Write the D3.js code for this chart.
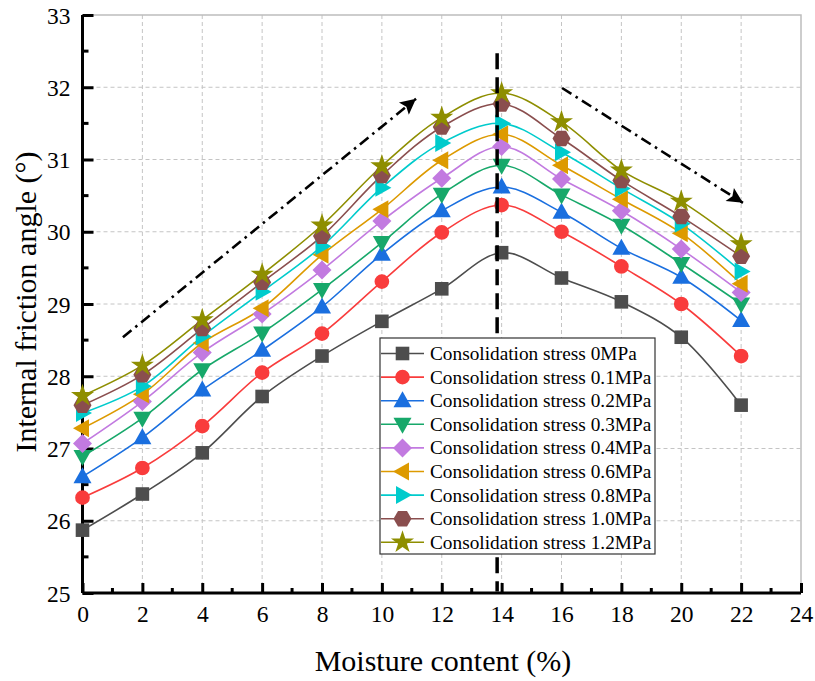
<!DOCTYPE html>
<html>
<head>
<meta charset="utf-8">
<script src="https://cdn.jsdelivr.net/npm/d3@7"></script>
<style>
  body { margin: 0; background: #fff; }
  text { font-family: "Liberation Serif", "Times New Roman", serif; fill: #000; }
</style>
</head>
<body>
<svg id="chart" width="815" height="681"></svg>
<script>
// moisture content (%)
var moisture = [0, 2, 4, 6, 8, 10, 12, 14, 16, 18, 20, 22];

// internal friction angle for each consolidation stress
var s0   = [25.87, 26.37, 26.94, 27.72, 28.28, 28.76, 29.21, 29.71, 29.36, 29.03, 28.54, 27.60];
var s01  = [26.32, 26.73, 27.31, 28.05, 28.59, 29.31, 29.99, 30.37, 30.00, 29.52, 29.00, 28.28];
var s02  = [26.61, 27.15, 27.81, 28.36, 28.96, 29.69, 30.29, 30.62, 30.27, 29.77, 29.37, 28.77];
var s03  = [26.89, 27.42, 28.09, 28.60, 29.20, 29.85, 30.52, 30.92, 30.51, 30.09, 29.56, 29.00];
var s04  = [27.07, 27.65, 28.33, 28.86, 29.47, 30.15, 30.74, 31.18, 30.73, 30.29, 29.76, 29.16];
var s06  = [27.28, 27.75, 28.46, 28.94, 29.68, 30.31, 30.99, 31.35, 30.92, 30.45, 29.98, 29.28];
var s08  = [27.49, 27.86, 28.55, 29.17, 29.80, 30.61, 31.23, 31.50, 31.10, 30.60, 30.11, 29.45];
var s10  = [27.60, 28.02, 28.66, 29.30, 29.94, 30.78, 31.45, 31.77, 31.29, 30.71, 30.21, 29.66];
var s12  = [27.73, 28.15, 28.78, 29.41, 30.09, 30.91, 31.58, 31.92, 31.52, 30.85, 30.42, 29.83];

var seriesNames = ["Consolidation stress 0MPa", "Consolidation stress 0.1MPa", "Consolidation stress 0.2MPa",
  "Consolidation stress 0.3MPa", "Consolidation stress 0.4MPa", "Consolidation stress 0.6MPa",
  "Consolidation stress 0.8MPa", "Consolidation stress 1.0MPa", "Consolidation stress 1.2MPa"];
var seriesValues = [s0, s01, s02, s03, s04, s06, s08, s10, s12];
var colors = ["#4d4d4d", "#f93c3c", "#1a6fdf", "#17a86a", "#c27ae0", "#dd9a00", "#00cbcc", "#8a4e4e", "#8e8e00"];
var shapes = ["square", "circle", "up", "down", "diamond", "left", "right", "hexagon", "star"];

var xTicks = [0, 2, 4, 6, 8, 10, 12, 14, 16, 18, 20, 22, 24];
var yTicks = [25, 26, 27, 28, 29, 30, 31, 32, 33];

// annotation positions (data units)
var peakLine = {x: 13.85, y0: 32.47, y1: 25.02};
var arrows = [
  {x0: 1.35, y0: 28.54, x1: 11.14, y1: 31.84},
  {x0: 16.02, y0: 31.99, x1: 22.06, y1: 30.40}
];

function drawChart() {
  var pLeft = 82.5, pTop = 15, pRight = 801, pBottom = 593;
  var svg = d3.select("#chart");

  var x = d3.scaleLinear().domain([0, 24]).range([pLeft, pRight]);
  var y = d3.scaleLinear().domain([25, 33]).range([pBottom, pTop]);

  // grid
  var grid = svg.append("g");
  grid.selectAll(".gx").data(xTicks.slice(1, -1)).enter().append("line")
    .attr("x1", d => x(d)).attr("x2", d => x(d))
    .attr("y1", pTop).attr("y2", pBottom)
    .attr("stroke", "#c4c4c4").attr("stroke-width", 1).attr("stroke-dasharray", "4,3");
  grid.selectAll(".gy").data(yTicks.slice(1, -1)).enter().append("line")
    .attr("x1", pLeft).attr("x2", pRight)
    .attr("y1", d => y(d)).attr("y2", d => y(d))
    .attr("stroke", "#c4c4c4").attr("stroke-width", 1).attr("stroke-dasharray", "4,3");

  // top and right frame
  svg.append("path")
    .attr("d", "M" + pLeft + "," + pTop + "H" + pRight + "V" + pBottom)
    .attr("fill", "none").attr("stroke", "#bdbdbd").attr("stroke-width", 1.5);

  // axes
  var xAxis = d3.axisBottom(x).tickValues(xTicks).tickSize(-10).tickFormat(d3.format("d"));
  var gx = svg.append("g").attr("transform", "translate(0," + pBottom + ")").call(xAxis);
  var yAxis = d3.axisLeft(y).tickValues(yTicks).tickSize(-11).tickFormat(d3.format("d"));
  var gy = svg.append("g").attr("transform", "translate(" + pLeft + ",0)").call(yAxis);

  [gx, gy].forEach(function (g) {
    g.attr("font-family", null).attr("font-size", null);
    g.select(".domain").attr("stroke", "#000").attr("stroke-width", 3);
    g.selectAll(".tick line").attr("stroke", "#000").attr("stroke-width", 3);
    g.selectAll(".tick text").style("font-family", "Liberation Serif").style("font-size", "23.5px").attr("fill", "#000");
  });
  gx.selectAll(".tick text").attr("dy", null).attr("y", 29);
  gy.selectAll(".tick text").attr("x", -12).attr("dy", "0.34em");
  gx.select(".domain").attr("d", "M" + pLeft + ",0H" + pRight);
  gy.select(".domain").attr("d", "M0," + pTop + "V" + pBottom);

  // minor ticks
  var xMinor = d3.range(1, 24, 2);
  gx.selectAll(".minor").data(xMinor).enter().append("line")
    .attr("x1", d => x(d)).attr("x2", d => x(d)).attr("y1", 0).attr("y2", -5)
    .attr("stroke", "#000").attr("stroke-width", 3);
  var yMinor = d3.range(25.5, 33, 1);
  gy.selectAll(".minor").data(yMinor).enter().append("line")
    .attr("y1", d => y(d)).attr("y2", d => y(d)).attr("x1", 0).attr("x2", 6)
    .attr("stroke", "#000").attr("stroke-width", 3);

  // axis titles
  svg.append("text").attr("x", 443).attr("y", 671).attr("text-anchor", "middle")
    .style("font-size", "30px").text("Moisture content (%)");
  svg.append("text").attr("transform", "translate(36,302) rotate(-90)").attr("text-anchor", "middle")
    .style("font-size", "30px").text("Internal friction angle (°)");

  // marker shapes
  function markerPath(shape) {
    switch (shape) {
      case "square": return d3.symbol(d3.symbolSquare, 185)();
      case "circle": return d3.symbol(d3.symbolCircle, 170)();
      case "diamond": return "M0,-9.5L9.5,0L0,9.5L-9.5,0Z";
      case "up": return "M0,-9.5L9,6.5L-9,6.5Z";
      case "down": return "M0,9.5L9,-6.5L-9,-6.5Z";
      case "left": return "M-9.5,0L6.5,-9L6.5,9Z";
      case "right": return "M9.5,0L-6.5,-9L-6.5,9Z";
      case "hexagon":
        var pts = d3.range(6).map(function (i) {
          var a = Math.PI / 3 * i;
          return [9 * Math.cos(a), 9 * Math.sin(a)];
        });
        return "M" + pts.join("L") + "Z";
      case "star": return d3.symbol(d3.symbolStar, 165)();
    }
  }

  var line = d3.line()
    .x(d => x(d[0])).y(d => y(d[1]))
    .curve(d3.curveCatmullRom.alpha(0.5));

  var plot = svg.append("g");
  seriesValues.forEach(function (vals, i) {
    var pts = moisture.map((m, k) => [m, vals[k]]);
    plot.append("path").datum(pts)
      .attr("d", line).attr("fill", "none")
      .attr("stroke", colors[i]).attr("stroke-width", 1.6);
  });
  seriesValues.forEach(function (vals, i) {
    var pts = moisture.map((m, k) => [m, vals[k]]);
    plot.selectAll(".m" + i).data(pts).enter().append("path")
      .attr("transform", d => "translate(" + x(d[0]) + "," + y(d[1]) + ")")
      .attr("d", markerPath(shapes[i]))
      .attr("fill", colors[i]);
  });

  // peak line
  svg.append("line")
    .attr("x1", x(peakLine.x)).attr("x2", x(peakLine.x))
    .attr("y1", y(peakLine.y0)).attr("y2", y(peakLine.y1))
    .attr("stroke", "#000").attr("stroke-width", 3.5).attr("stroke-dasharray", "16,8");

  // trend arrows
  svg.append("defs").append("marker")
    .attr("id", "arrowhead").attr("viewBox", "0 0 10 10")
    .attr("refX", 10).attr("refY", 5)
    .attr("markerWidth", 8).attr("markerHeight", 6).attr("orient", "auto")
    .attr("markerUnits", "strokeWidth")
    .append("path").attr("d", "M0,0L10,5L0,10L2,5Z").attr("fill", "#000");

  svg.selectAll(".trend").data(arrows).enter().append("line")
    .attr("x1", d => x(d.x0)).attr("y1", d => y(d.y0))
    .attr("x2", d => x(d.x1)).attr("y2", d => y(d.y1))
    .attr("stroke", "#000").attr("stroke-width", 2.6)
    .attr("stroke-dasharray", "11,5,2.5,5")
    .attr("marker-end", "url(#arrowhead)");

  // legend
  var lg = svg.append("g").attr("transform", "translate(380,338)");
  lg.append("rect").attr("width", 275).attr("height", 216)
    .attr("fill", "#fff").attr("stroke", "#333").attr("stroke-width", 1.2);
  seriesNames.forEach(function (name, i) {
    var cy = 15.5 + i * 23.6;
    var row = lg.append("g");
    row.append("line").attr("x1", 1).attr("x2", 44).attr("y1", cy).attr("y2", cy)
      .attr("stroke", colors[i]).attr("stroke-width", 1.6);
    row.append("path").attr("transform", "translate(22.5," + cy + ")")
      .attr("d", markerPath(shapes[i])).attr("fill", colors[i]);
    row.append("text").attr("x", 50).attr("y", cy + 6.5)
      .style("font-size", "19.3px").text(name);
  });
}

drawChart();
</script>
</body>
</html>
